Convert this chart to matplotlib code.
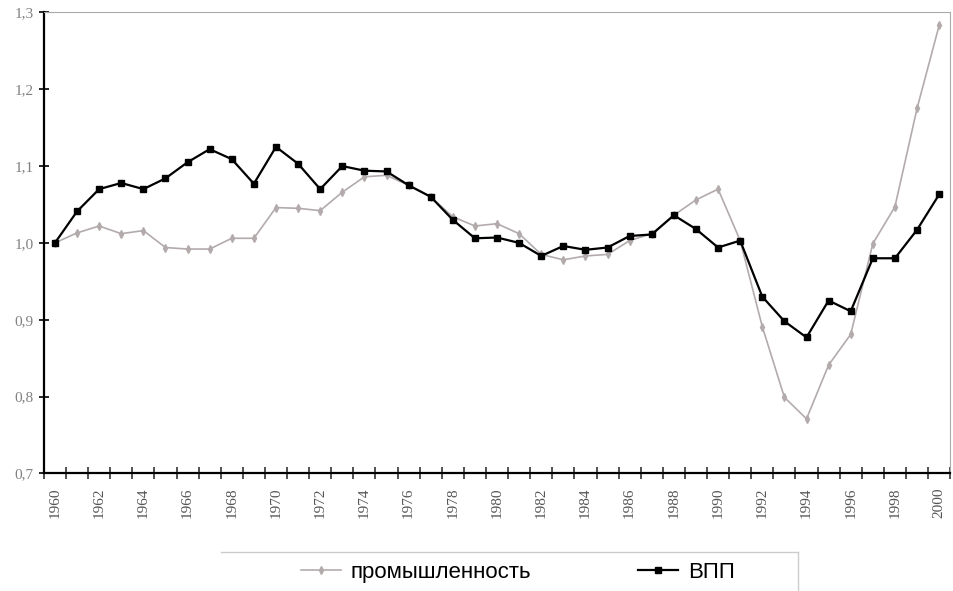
import numpy as np
import matplotlib
matplotlib.use('Agg')
import matplotlib.pyplot as plt
from matplotlib.lines import Line2D

years = np.arange(1960, 2001)

# промышленность (grey)
industry = [1.000, 1.013, 1.022, 1.012, 1.016, 0.994, 0.992, 0.992, 1.006, 1.006,
            1.046, 1.045, 1.042, 1.066, 1.086, 1.088, 1.075, 1.060, 1.034, 1.022,
            1.025, 1.012, 0.985, 0.978, 0.983, 0.985, 1.003, 1.012, 1.036, 1.056,
            1.070, 1.003, 0.891, 0.799, 0.771, 0.841, 0.881, 0.999, 1.047, 1.175,
            1.283]

# ВПП (black)
gdp = [1.000, 1.041, 1.070, 1.078, 1.070, 1.084, 1.105, 1.122, 1.109, 1.077,
       1.125, 1.103, 1.070, 1.100, 1.094, 1.093, 1.075, 1.060, 1.030, 1.006,
       1.007, 1.000, 0.983, 0.996, 0.991, 0.994, 1.009, 1.011, 1.036, 1.018,
       0.994, 1.003, 0.930, 0.898, 0.877, 0.925, 0.911, 0.980, 0.980, 1.017,
       1.063]

y_ticks = [0.7, 0.8, 0.9, 1.0, 1.1, 1.2, 1.3]
label_years = list(range(1960, 2001, 2))

fig = plt.figure(figsize=(9.54, 5.91), dpi=100)
ax = fig.add_axes([0.046, 0.199, 0.950, 0.780])

grey = '#b3abab'
ax.plot(years, industry, color=grey, lw=1.2, marker='d', ms=4,
        mfc=grey, mec=grey, label='промышленность')
ax.plot(years, gdp, color='black', lw=1.6, marker='s', ms=5,
        mfc='black', mec='black', label='ВПП')

ax.set_xlim(1959.5, 2000.5)
ax.set_ylim(0.7, 1.3)

# category-style axis: tick marks between years, labels on every second year
ax.set_xticks(np.arange(1959.5, 2001, 1.0))
ax.set_xticklabels([])
ax.set_xticks(label_years, minor=True)
ax.set_xticklabels([str(y) for y in label_years], minor=True, rotation=90,
                   family='Liberation Serif', fontsize=11, color='#555555')
ax.tick_params(axis='x', which='major', direction='inout', length=8,
               width=1.2, color='#333333')
ax.tick_params(axis='x', which='minor', length=0, pad=10)

ax.set_yticks(y_ticks)
ax.set_yticklabels([('%.1f' % v).replace('.', ',') for v in y_ticks],
                   family='Liberation Serif', fontsize=11, color='#808080')
ax.tick_params(axis='y', direction='inout', length=7, width=1.2, pad=4)

for s in ['left', 'bottom']:
    ax.spines[s].set_linewidth(1.6)
    ax.spines[s].set_color('black')
for s in ['top', 'right']:
    ax.spines[s].set_linewidth(0.8)
    ax.spines[s].set_color('#aaaaaa')

# legend below the chart, with its frame partly out of the picture
fig.legend(loc='center', bbox_to_anchor=(0.5425, 0.032), ncol=2, frameon=False,
           prop={'family': 'Liberation Sans', 'size': 16},
           handlelength=1.8, columnspacing=4.8, handletextpad=0.45)
fig.add_artist(Line2D([0.232, 0.836], [0.066, 0.066], transform=fig.transFigure,
                      color='#cccccc', lw=1))
fig.add_artist(Line2D([0.836, 0.836], [0.066, 0.0], transform=fig.transFigure,
                      color='#cccccc', lw=1))

fig.savefig('out.png', dpi=100)
